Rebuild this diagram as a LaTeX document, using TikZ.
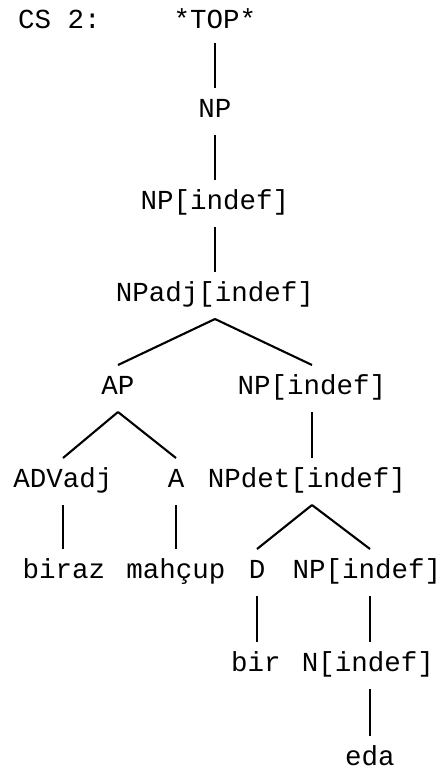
\documentclass[tikz,border=0pt]{standalone}
\usepackage{fontspec}
\setmonofont{Liberation Mono}
\usetikzlibrary{calc}
\begin{document}
\begin{tikzpicture}[x=1pt,y=-1pt,
  lab/.style={font=\ttfamily\fontsize{27.5}{27.5}\selectfont, inner sep=0pt, outer sep=0pt,
    text height=16pt, text depth=0pt, anchor=south},
  br/.style={line width=2.1pt}]
\useasboundingbox (0,0) rectangle (440,769);
% nodes (anchor south = baseline)
\node[lab, anchor=south west] (cs) at (18,28) {CS 2:};
\node[lab] (top) at (215,28) {*TOP*};
\node[lab] (np1) at (215,117) {NP};
\node[lab] (np2) at (215,209) {NP[indef]};
\node[lab] (npadj) at (215,301) {NPadj[indef]};
\node[lab] (ap) at (118,394) {AP};
\node[lab] (np3) at (312,394) {NP[indef]};
\node[lab] (advadj) at (63,487) {ADVadj};
\node[lab] (a) at (176,487) {A};
\node[lab] (npdet) at (307,487) {NPdet[indef]};
\node[lab] (biraz) at (64,578) {biraz};
\node[lab] (mahcup) at (176,578) {mahçup};
\node[lab] (d) at (257,578) {D};
\node[lab] (np4) at (367,578) {NP[indef]};
\node[lab] (bir) at (256,671) {bir};
\node[lab] (nindef) at (368,671) {N[indef]};
\node[lab] (eda) at (370,765) {eda};
% connectors
\draw[br] ([yshift=-15pt]top.south) -- ([yshift=13pt]np1.north);
\draw[br] ([yshift=-18pt]np1.south) -- ([yshift=13pt]np2.north);
\draw[br] ([yshift=-18pt]np2.south) -- ([yshift=13pt]npadj.north);
\draw[br] ([yshift=-18pt]npadj.south) -- ([yshift=13pt]ap.north);
\draw[br] ([yshift=-18pt]npadj.south) -- ([yshift=13pt]np3.north);
\draw[br] ([yshift=-18pt]ap.south) -- ([yshift=13pt]advadj.north);
\draw[br] ([yshift=-18pt]ap.south) -- ([yshift=13pt]a.north);
\draw[br] ([yshift=-18pt]np3.south) -- ([xshift=5pt,yshift=13pt]npdet.north);
\draw[br] ([yshift=-18pt]advadj.south) -- ([xshift=-1pt,yshift=13pt]biraz.north);
\draw[br] ([yshift=-18pt]a.south) -- ([yshift=13pt]mahcup.north);
\draw[br] ([xshift=5pt,yshift=-18pt]npdet.south) -- ([yshift=13pt]d.north);
\draw[br] ([xshift=5pt,yshift=-18pt]npdet.south) -- ([xshift=3pt,yshift=13pt]np4.north);
\draw[br] ([yshift=-18pt]d.south) -- ([xshift=1pt,yshift=13pt]bir.north);
\draw[br] ([xshift=3pt,yshift=-18pt]np4.south) -- ([xshift=2pt,yshift=13pt]nindef.north);
\draw[br] ([xshift=2pt,yshift=-18pt]nindef.south) -- ([yshift=13pt]eda.north);
\end{tikzpicture}
\end{document}
